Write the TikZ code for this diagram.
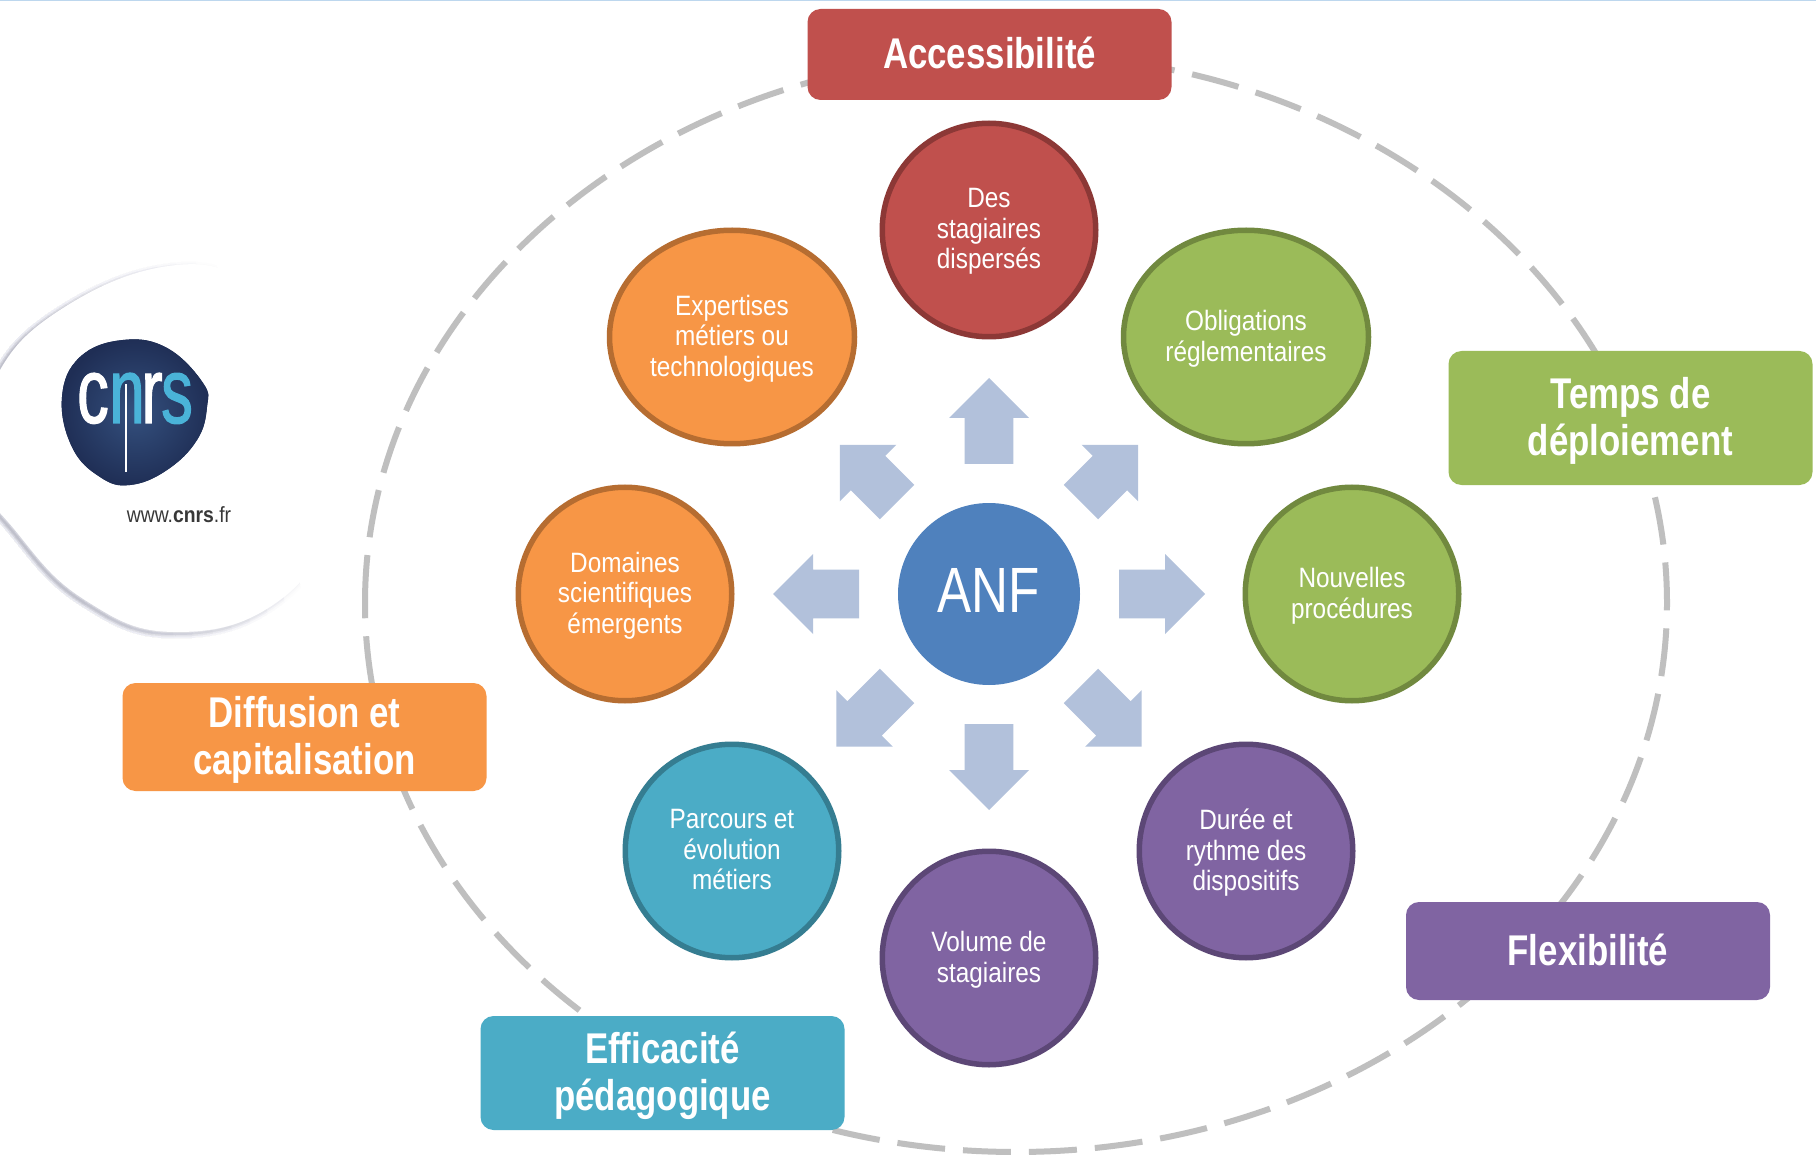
\documentclass[tikz,border=0pt]{standalone}
\usepackage{fontspec}
\setmainfont{Liberation Sans}
\newfontfamily\lab[FakeStretch=.87]{Liberation Sans}
\newfontfamily\labb[FakeStretch=.81]{Liberation Sans Bold}
\newfontfamily\anffont[FakeStretch=.8]{Liberation Sans}
\newfontfamily\logofont[FakeStretch=.68,FakeBold=1.2]{Liberation Sans}
\newfontfamily\urlfont[FakeStretch=.88]{Liberation Sans}
\usetikzlibrary{shapes.geometric}
\definecolor{cred}{HTML}{C0504D}\definecolor{credd}{HTML}{8C3836}
\definecolor{cgreen}{HTML}{9BBB59}\definecolor{cgreend}{HTML}{71893F}
\definecolor{corange}{HTML}{F79646}\definecolor{corangede}{HTML}{B66D31}
\definecolor{cteal}{HTML}{4BACC6}\definecolor{cteald}{HTML}{357D91}
\definecolor{cpurple}{HTML}{8064A2}\definecolor{cpurpled}{HTML}{5C4776}
\definecolor{canf}{HTML}{4F81BD}\definecolor{carrow}{HTML}{B2C1DB}
\definecolor{cdash}{HTML}{BFBFBF}\definecolor{cnavy}{HTML}{1F2E55}
\definecolor{cnavyl}{HTML}{34507E}\definecolor{ccyan}{HTML}{4AB3D8}
\definecolor{cshadow}{HTML}{B9BACB}\definecolor{ctop}{HTML}{BDD7EE}
\tikzset{
  topic/.style={ellipse,inner sep=0pt,line width=5.5pt,text=white,align=center,
    minimum width=213.5pt,minimum height=213.5pt,text depth=2.4pt,
    font=\lab\fontsize{28}{30.5}\selectfont},
  wide/.style={minimum width=245pt,minimum height=213.5pt},
  theme/.style={rounded corners=13pt,inner sep=0pt,text=white,align=center,
    minimum width=364pt,text depth=3.5pt,font=\labb\fontsize{43}{46.5}\selectfont},
  dashring/.style={draw=cdash,line width=6pt,dash pattern=on 48pt off 18pt},
  radial/.style={fill=carrow},
  logoletter/.style={inner sep=0pt,anchor=base,font=\logofont\fontsize{93}{93}\selectfont}
}
\newcommand{\bigarrow}[3]{%
  \fill[radial,shift={(anf.center)},rotate=#1]
    (130,-24.3) -- (#2,-24.3) -- (#2,-40) -- (#3,0) -- (#2,40) -- (#2,24.3) -- (130,24.3) -- cycle;}
\def\blobpath{plot[smooth cycle,tension=.75] coordinates
  {(-22,470) (-8,385) (60,310) (177,265) (262,290) (325,345) (348,430) (336,515) (280,600) (177,632) (85,600) (15,530)}}
\begin{document}
\begin{tikzpicture}[x=1pt,y=-1pt]
\useasboundingbox (0,0) rectangle (1816,1155);
\fill[white] (0,0) rectangle (1816,1155);
\fill[ctop] (0,0) rectangle (1816,1.5);
% logo backing: a soft shadow that fades towards the right
\foreach \X in {100,120,...,320}{
  \begin{scope}
  \clip (-50,240) -- (\X-110,240) -- (\X,660) -- (-50,660) -- cycle;
  \draw[cshadow,line width=9pt,opacity=.02,shift={(-2,2)}] \blobpath;
  \draw[cshadow,line width=5pt,opacity=.04,shift={(-2,2)}] \blobpath;
  \draw[cshadow,line width=2pt,opacity=.06,shift={(-2,2)}] \blobpath;
  \end{scope}
}
\fill[white] \blobpath;
\fill[cnavy,inner color=cnavyl,outer color=cnavy]
  plot[smooth cycle,tension=.7] coordinates
  {(62,397) (80,357) (123,340) (167,348) (203,383) (207,407) (197,440) (167,470) (130,485) (100,477) (72,447)};
\node (cnrsc) [logoletter,text=white] at (93,423) {c};
\node (cnrsn) [logoletter,text=ccyan] at (127,423) {n};
\node (cnrsr) [logoletter,text=white] at (152,423) {r};
\node (cnrss) [logoletter,text=ccyan] at (177,423) {s};
\draw[white,line width=1.8pt] (126,384) -- (126,472);
\node (url) [inner sep=0pt,text=black!78,font=\urlfont\fontsize{22}{24}\selectfont] at (179,515) {www.\textbf{cnrs}.fr};
% dashed ring
\draw[dashring] (365,603) arc [start angle=180,end angle=540,x radius=651,y radius=549];
% centre
\node (anf) [circle,fill=canf,inner sep=0pt,minimum size=182pt,text=white,font=\anffont\fontsize{64}{66}\selectfont] at (989,594) {\raisebox{8pt}{ANF}};
\bigarrow{0}{176}{216}
\bigarrow{180}{176}{216}
\bigarrow{90}{176}{216}
\bigarrow{-90}{176}{216}
\bigarrow{45}{171}{211}
\bigarrow{135}{171}{211}
\bigarrow{-45}{176}{216}
\bigarrow{-135}{176}{216}
% topics
\node (t1) [topic,fill=cred,draw=credd] at (989,230) {Des\\stagiaires\\dispersés};
\node (t2) [topic,wide,fill=cgreen,draw=cgreend] at (1246,337) {Obligations\\réglementaires};
\node (t3) [topic,fill=cgreen,draw=cgreend] at (1352,594) {Nouvelles\\procédures};
\node (t4) [topic,fill=cpurple,draw=cpurpled] at (1246,851) {Durée et\\rythme des\\dispositifs};
\node (t5) [topic,fill=cpurple,draw=cpurpled] at (989,958) {Volume de\\stagiaires};
\node (t6) [topic,fill=cteal,draw=cteald] at (732,851) {Parcours et\\évolution\\métiers};
\node (t7) [topic,fill=corange,draw=corangede] at (625,594) {Domaines\\scientifiques\\émergents};
\node (t8) [topic,wide,fill=corange,draw=corangede] at (732,337) {Expertises\\métiers ou\\technologiques};
% themes
\node (b1) [theme,fill=cred,minimum height=91pt] at (989.5,54.5) {Accessibilité};
\node (b2) [theme,fill=cgreen,minimum height=134pt] at (1630.5,418) {Temps de\\déploiement};
\node (b3) [theme,fill=cpurple,minimum height=98pt] at (1588,951) {Flexibilité};
\node (b4) [theme,fill=cteal,minimum height=114pt] at (662.5,1073) {Efficacité\\pédagogique};
\node (b5) [theme,fill=corange,minimum height=108pt] at (304.5,737) {Diffusion et\\capitalisation};
\end{tikzpicture}
\end{document}
